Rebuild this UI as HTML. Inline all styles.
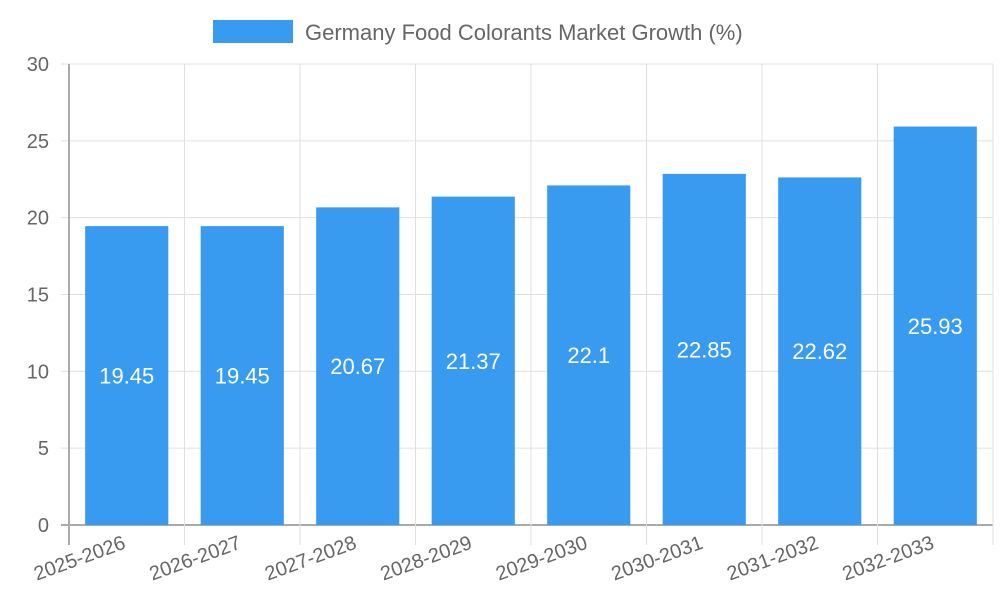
<!DOCTYPE html>
<html><head><meta charset="utf-8"><style>
body{margin:0;background:#fff;font-family:"Liberation Sans",sans-serif}
</style></head><body>
<svg id="chart" width="1000" height="600" xmlns="http://www.w3.org/2000/svg" font-family="Liberation Sans, sans-serif"></svg>
<script>
const categories=["2025-2026","2026-2027","2027-2028","2028-2029","2029-2030","2030-2031","2031-2032","2032-2033"];
const values=[19.45,19.45,20.67,21.37,22.1,22.85,22.62,25.93];
const valueLabels=["19.45","19.45","20.67","21.37","22.1","22.85","22.62","25.93"];
const yTicks=[0,5,10,15,20,25,30];
const svg=document.getElementById('chart');
const NS='http://www.w3.org/2000/svg';
const L=69,R=993,T=64,B=525,yMax=30;
const cw=(R-L)/categories.length;
const y=v=>B-v/yMax*(B-T);
const x=i=>L+i*cw;
function mk(tag,attrs,txt){const e=document.createElementNS(NS,tag);for(const k in attrs)e.setAttribute(k,attrs[k]);if(txt!=null)e.textContent=txt;svg.appendChild(e);return e;}
// horizontal grid + y labels
yTicks.forEach(t=>{
 const g=mk('line',{x1:L-8,x2:R,y1:y(t),y2:y(t),stroke:t===0?'#aaa':'#e0e0e0','stroke-width':t===0?2:1});
 
 
 const tx=mk('text',{x:L-20,y:y(t)+7,'text-anchor':'end','font-size':20,fill:'#666'},t);
 
 
});
// vertical grid
for(let i=0;i<=categories.length;i++){
 const g=mk('line',{x1:x(i),x2:x(i),y1:T,y2:B+20,stroke:i===0?'#aaa':'#e0e0e0','stroke-width':i===0?2:1});
 
 
}
// bars
categories.forEach((c,i)=>{
 const bw=cw*0.72, bx=x(i)+(cw-bw)/2;
 const r=mk('rect',{x:bx,y:y(values[i]),width:bw,height:B-y(values[i]),fill:'#389bf0'});
 
 
 const cy=(y(values[i])+B)/2;
 const vl=mk('text',{x:bx+bw/2,y:cy+8,'text-anchor':'middle','font-size':22,fill:'#fff'},valueLabels[i]);
 
 
 const cx=x(i)+cw/2;
 const xl=mk('text',{x:cx,y:548,'text-anchor':'end','font-size':20,fill:'#666',transform:`rotate(-20 ${cx} 548)`},c);
 
 
});
// legend
const lb=mk('rect',{x:213,y:20,width:80,height:23,fill:'#389bf0'});


const lt=mk('text',{x:305,y:40,'font-size':22,fill:'#666'},'Germany Food Colorants Market Growth (%)');


</script>
</body></html>
